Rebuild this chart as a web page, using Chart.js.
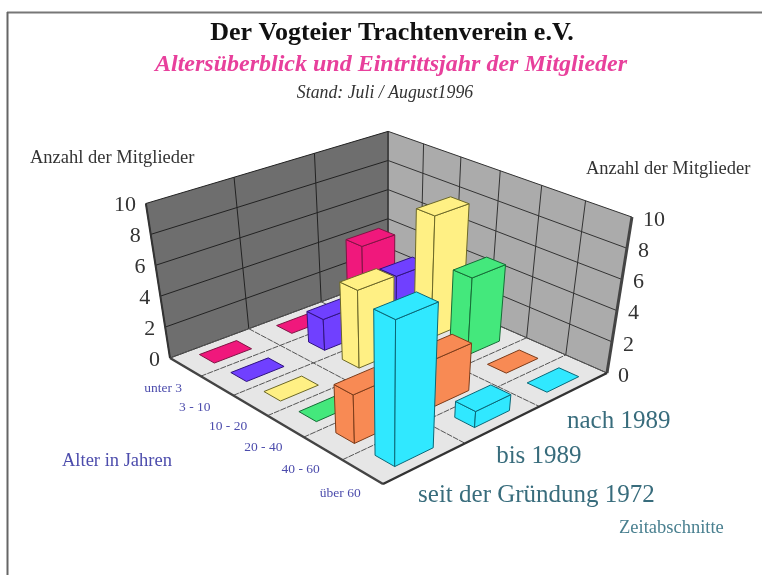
<!DOCTYPE html>
<html>
<head>
<meta charset="utf-8">
<title>Der Vogteier Trachtenverein e.V.</title>
<script src="https://cdn.jsdelivr.net/npm/chart.js@4"></script>
<style>
    html, body { margin: 0; padding: 0; background: #fff; }
    canvas { display: block; filter: blur(0.6px); }
</style>
</head>
<body>
<canvas id="grafico" width="762" height="575"></canvas>
<script>
var altersgruppen = ["unter 3", "3 - 10", "10 - 20", "20 - 40", "40 - 60", "über 60"];
var zeitabschnitte = ["seit der Gründung 1972", "bis 1989", "nach 1989"];
var seit1972 = [0, 0, 0, 0, 3, 9];
var bis1989 = [0, 2, 5, 0, 3, 1];
var nach1989 = [4, 3, 8, 5, 0, 0];
var farben = ["#f0187c", "#7040ff", "#fff084", "#44e87c", "#f88a54", "#30e8ff"];
var kanten = ["#801444", "#301480", "#6c6828", "#166c36", "#7c3c1a", "#0a6878"];

// camera: floor corners on screen, vertical vanishing point, lift of the walls
var floorL = [170, 358], floorF = [383, 484], floorR = [607, 373], floorB = [388, 277];
var vanish = [387, 1748];
var barAge = 0.48, barTime = 0.47;

// unit square -> floor quad
function makeFloor() {
    var dx1 = floorF[0] - floorR[0], dx2 = floorB[0] - floorR[0], sx = floorL[0] - floorF[0] + floorR[0] - floorB[0];
    var dy1 = floorF[1] - floorR[1], dy2 = floorB[1] - floorR[1], sy = floorL[1] - floorF[1] + floorR[1] - floorB[1];
    var den = dx1 * dy2 - dx2 * dy1;
    var g = (sx * dy2 - dx2 * sy) / den;
    var h = (dx1 * sy - sx * dy1) / den;
    return function (a, t) {
        var w = g * a + h * t + 1;
        return [((floorF[0] - floorL[0] + g * floorF[0]) * a + (floorB[0] - floorL[0] + h * floorB[0]) * t + floorL[0]) / w,
                ((floorF[1] - floorL[1] + g * floorF[1]) * a + (floorB[1] - floorL[1] + h * floorB[1]) * t + floorL[1]) / w];
    };
}
var floorAt = makeFloor();

function project(a, t, z) {
    var p = floorAt(a, t);
    var k = 0.099 + 0.00015 * (p[1] - 277);
    var s = 1 + k * z;
    return [vanish[0] + (p[0] - vanish[0]) * s, vanish[1] + (p[1] - vanish[1]) * s];
}

function poly(ctx, pts, fill, stroke, lw) {
    ctx.beginPath();
    ctx.moveTo(pts[0][0], pts[0][1]);
    for (var i = 1; i < pts.length; i++) {
        ctx.lineTo(pts[i][0], pts[i][1]);
    }
    ctx.closePath();
    if (fill) {
        ctx.fillStyle = fill;
        ctx.fill();
    }
    if (stroke) {
        ctx.strokeStyle = stroke;
        ctx.lineWidth = lw || 1;
        ctx.lineJoin = "round";
        ctx.stroke();
    }
}

function line(ctx, p, q, color, lw, dash) {
    ctx.beginPath();
    ctx.setLineDash(dash || []);
    ctx.moveTo(p[0], p[1]);
    ctx.lineTo(q[0], q[1]);
    ctx.strokeStyle = color;
    ctx.lineWidth = lw;
    ctx.stroke();
    ctx.setLineDash([]);
}

function text(ctx, str, x, y, font, color, align) {
    ctx.font = font;
    ctx.fillStyle = color;
    ctx.textAlign = align || "left";
    ctx.textBaseline = "middle";
    ctx.fillText(str, x, y);
}

var bars3d = {
    id: "bars3d",
    afterDatasetsDraw: function (chart) {
        var ctx = chart.ctx;
        var area = chart.chartArea;
        var xs = chart.scales.x, ts = chart.scales.t, ys = chart.scales.y;
        var serif = '"Liberation Serif", serif';

        // all three library scales are mapped to 0..1 and then onto the floor
        function ageU(v) { return (xs.getPixelForValue(v) - area.left) / area.width; }
        function timeU(v) { return (ts.getPixelForValue(v) - area.left) / area.width; }
        function high(v) { return (area.bottom - ys.getPixelForValue(v)) / area.height; }
        function pt(age, time, val) { return project(ageU(age), timeU(time), high(val)); }

        var nA = altersgruppen.length, nT = zeitabschnitte.length;
        var a0 = -0.5, a1 = nA - 0.5, t0 = -0.5, t1 = nT - 0.5;
        var floorDash = [6, 1];

        ctx.save();

        // sunken page frame
        line(ctx, [7, 12.5], [762, 12.5], "#777", 2);
        line(ctx, [7.5, 12], [7.5, 575], "#666", 2);

        // walls and floor
        poly(ctx, [pt(a0, t0, 0), pt(a0, t1, 0), pt(a0, t1, 10), pt(a0, t0, 10)], "#6e6e6e");
        poly(ctx, [pt(a0, t1, 0), pt(a1, t1, 0), pt(a1, t1, 10), pt(a0, t1, 10)], "#ababab");
        poly(ctx, [pt(a0, t0, 0), pt(a1, t0, 0), pt(a1, t1, 0), pt(a0, t1, 0)], "#e6e6e6");

        ys.ticks.forEach(function (tick) {
            line(ctx, pt(a0, t0, tick.value), pt(a0, t1, tick.value), "#222", 1);
            line(ctx, pt(a0, t1, tick.value), pt(a1, t1, tick.value), "#333", 1);
        });
        for (var t = 0; t <= nT; t++) {
            line(ctx, pt(a0, t - 0.5, 0), pt(a0, t - 0.5, 10), "#222", 1);
            line(ctx, pt(a0, t - 0.5, 0), pt(a1, t - 0.5, 0), "#555", 1, floorDash);
        }
        for (var a = 0; a <= nA; a++) {
            line(ctx, pt(a - 0.5, t1, 0), pt(a - 0.5, t1, 10), "#333", 1);
            line(ctx, pt(a - 0.5, t0, 0), pt(a - 0.5, t1, 0), "#555", 1, floorDash);
        }

        // thick edges of the box
        line(ctx, pt(a0, t0, 0), pt(a0, t0, 10), "#333", 2);
        line(ctx, pt(a1, t1, 0), pt(a1, t1, 10), "#444", 3);
        line(ctx, pt(a0, t0, 0), pt(a1, t0, 0), "#444", 2.5);
        line(ctx, pt(a1, t0, 0), pt(a1, t1, 0), "#333", 2.5);

        // bars, back to front
        for (var i = nT - 1; i >= 0; i--) {
            var vals = chart.data.datasets[i].data;
            for (var j = 0; j < nA; j++) {
                var v = vals[j];
                var aL = j - barAge / 2, aH = j + barAge / 2;
                var tL = i - barTime / 2, tH = i + barTime / 2;
                if (v > 0) {
                    poly(ctx, [pt(aL, tL, 0), pt(aH, tL, 0), pt(aH, tL, v), pt(aL, tL, v)], farben[j], kanten[j], 1);
                    poly(ctx, [pt(aH, tL, 0), pt(aH, tH, 0), pt(aH, tH, v), pt(aH, tL, v)], farben[j], kanten[j], 1);
                }
                poly(ctx, [pt(aL, tL, v), pt(aH, tL, v), pt(aH, tH, v), pt(aL, tH, v)], farben[j], kanten[j], 1);
            }
        }

        // value axis labels on both outer wall edges
        ys.ticks.forEach(function (tick) {
            var l = pt(a0, t0, tick.value), r = pt(a1, t1, tick.value);
            text(ctx, String(tick.value), l[0] - 10, l[1] + 2, "22px " + serif, "#333", "right");
            text(ctx, String(tick.value), r[0] + 11, r[1] + 3, "22px " + serif, "#333", "left");
        });

        // category labels follow the two front edges
        altersgruppen.forEach(function (name, n) {
            var p = pt(n, t0, 0);
            text(ctx, name, p[0] - 22, p[1] + 21.5, "13.5px " + serif, "#4c4cac", "center");
        });
        zeitabschnitte.forEach(function (name, n) {
            var p = pt(a1, n, 0);
            text(ctx, name, p[0] - 7, p[1] + 32, "25px " + serif, "#386c7c", "left");
        });

        // headings
        text(ctx, "Der Vogteier Trachtenverein e.V.", 392, 33, "bold 26px " + serif, "#111", "center");
        text(ctx, "Altersüberblick und Eintrittsjahr der Mitglieder", 391, 65, "italic bold 24px " + serif, "#e8409c", "center");
        text(ctx, "Stand: Juli / August1996", 385, 93, "italic 17.8px " + serif, "#333", "center");
        text(ctx, "Anzahl der Mitglieder", 30, 158, "18.5px " + serif, "#333");
        text(ctx, "Anzahl der Mitglieder", 586, 169, "18.5px " + serif, "#333");
        text(ctx, "Alter in Jahren", 62, 461, "18.5px " + serif, "#4c4cac");
        text(ctx, "Zeitabschnitte", 619, 528, "18.5px " + serif, "#4a8090");

        ctx.restore();
    }
};

function makeChart() {
    var canvas = document.getElementById("grafico");
    new Chart(canvas, {
        type: "line",
        data: {
            labels: altersgruppen,
            datasets: [
                { label: zeitabschnitte[0], data: seit1972, showLine: false, pointRadius: 0 },
                { label: zeitabschnitte[1], data: bis1989, showLine: false, pointRadius: 0 },
                { label: zeitabschnitte[2], data: nach1989, showLine: false, pointRadius: 0 }
            ]
        },
        options: {
            responsive: false,
            animation: false,
            layout: { padding: 0 },
            plugins: { legend: { display: false }, tooltip: { enabled: false } },
            scales: {
                x: { type: "category", offset: true, display: false },
                t: { type: "category", axis: "x", labels: zeitabschnitte, offset: true, display: false },
                y: { type: "linear", min: 0, max: 10, ticks: { stepSize: 2 }, display: false }
            }
        },
        plugins: [bars3d]
    });
}

document.addEventListener("DOMContentLoaded", makeChart);
</script>
</body>
</html>
